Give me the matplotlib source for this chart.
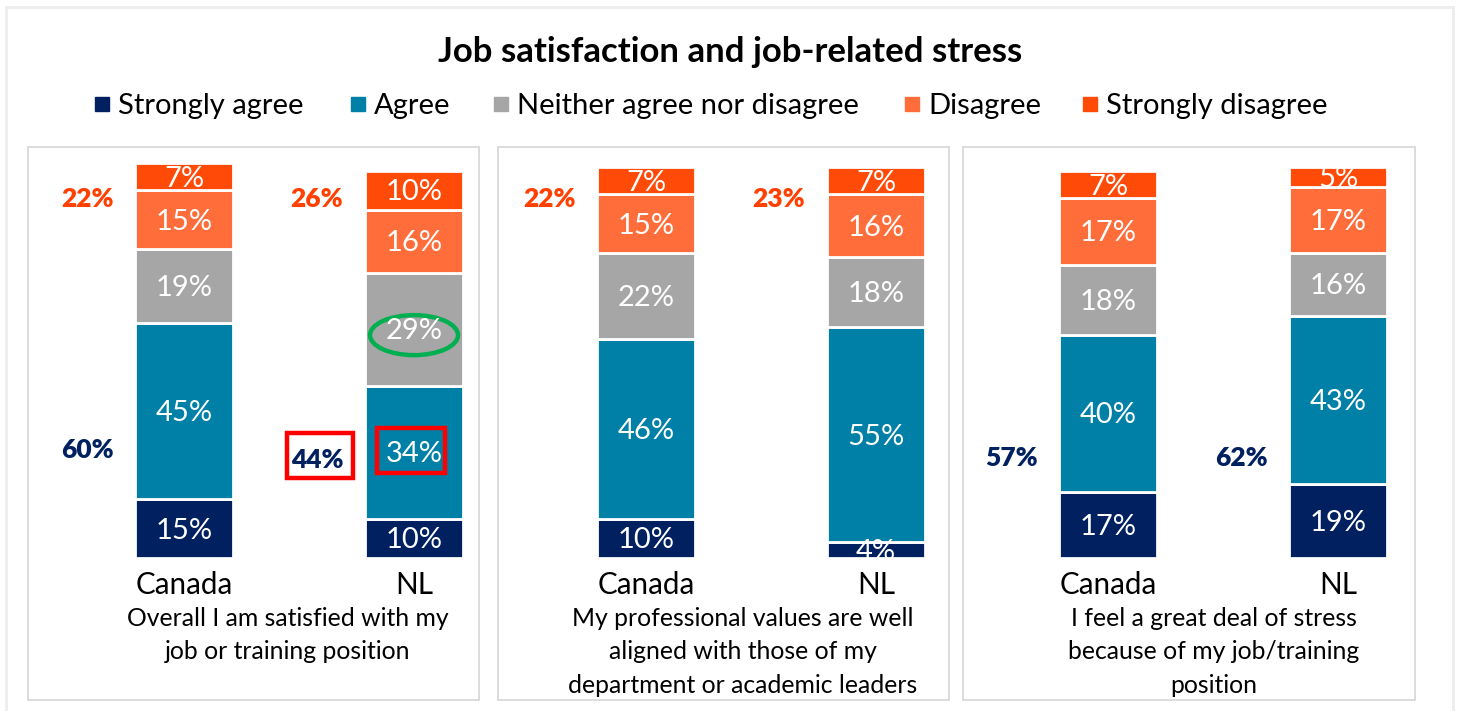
import matplotlib.pyplot as plt
from matplotlib.patches import Rectangle, Ellipse

plt.rcParams['font.family'] = ['Lato', 'DejaVu Sans']

W, H = 1460, 711

categories = ['Strongly agree', 'Agree', 'Neither agree nor disagree', 'Disagree', 'Strongly disagree']
colors = ['#002060', '#0080A6', '#A6A6A6', '#FF6D3A', '#FF4A08']
groups = ['Canada', 'NL']

questions = [
    'Overall I am satisfied with my\njob or training position',
    'My professional values are well\naligned with those of my\ndepartment or academic leaders',
    'I feel a great deal of stress\nbecause of my job/training\nposition',
]

# percent per category, [Canada, NL]
satisfied = [[15, 10], [45, 34], [19, 29], [15, 16], [7, 10]]
values_aligned = [[10, 4], [46, 55], [22, 18], [15, 16], [7, 7]]
stress = [[17, 19], [40, 43], [18, 16], [17, 17], [7, 5]]
panels = [satisfied, values_aligned, stress]

# combined agree / disagree totals shown beside the bars (None = not shown)
agree_totals = [[60, 44], [None, None], [57, 62]]
disagree_totals = [[22, 26], [22, 23], [None, None]]

# pixel layout of the three panels: (left, right, canada bar centre, nl bar centre)
panel_px = [(28, 479, 184, 414), (498, 949, 646, 876), (963, 1415, 1108, 1338)]
question_shift_px = [-11, -18, -9]
bar_w_px = 98
base_px, top_px = 558, 147
px_per_pct = 3.91
agree_y = [[27.5, 25.0], [None, None], [25.5, 25.5]]

fig = plt.figure(figsize=(W / 100, H / 100), dpi=100)


def fx(px):
    return px / W


def fy(py):
    return 1 - py / H


# outer frame
fig.patches.append(Rectangle((fx(6), fy(720)), fx(1453) - fx(6), fy(7) - fy(720),
                             transform=fig.transFigure, fill=False,
                             edgecolor='#EDEDED', linewidth=2))

fig.text(0.5, fy(52), 'Job satisfaction and job-related stress', ha='center', va='center',
         fontsize=25, fontweight='bold', color='black')

# legend
leg_sq = [95, 351, 494, 905, 1083]
for x0, lab, col in zip(leg_sq, categories, colors):
    fig.patches.append(Rectangle((fx(x0), fy(111)), 14 / W, 14 / H,
                                 transform=fig.transFigure, color=col))
    fig.text(fx(x0 + 23), fy(106), lab, ha='left', va='center', fontsize=21)

for i, data in enumerate(panels):
    left, right, c, n = panel_px[i]
    fig.patches.append(Rectangle((fx(left), fy(700)), fx(right) - fx(left), fy(147) - fy(700),
                                 transform=fig.transFigure, fill=False,
                                 edgecolor='#D9D9D9', linewidth=1.3))
    ax = fig.add_axes([fx(left), fy(base_px), fx(right) - fx(left), fy(top_px) - fy(base_px)])
    unit = n - c
    ax.set_xlim((left - c) / unit, (right - c) / unit)
    ax.set_ylim(0, (base_px - top_px) / px_per_pct)
    ax.axis('off')

    bottoms = [0, 0]
    for k, row in enumerate(data):
        ax.bar([0, 1], row, bottom=bottoms, width=bar_w_px / unit, color=colors[k],
               edgecolor='white', linewidth=2)
        for j, v in enumerate(row):
            ax.text(j, bottoms[j] + v / 2 - 0.5, f'{v}%', ha='center', va='center',
                    color='white', fontsize=21)
        bottoms = [b + v for b, v in zip(bottoms, row)]

    off = -97 / unit
    for j in range(2):
        ax.text(j, (base_px - 585) / px_per_pct, groups[j], ha='center', va='center',
                fontsize=21.3)
        if disagree_totals[i][j] is not None:
            ax.text(j + off, 91.8, f'{disagree_totals[i][j]}%', ha='center', va='center',
                    fontsize=19, fontweight='heavy', color='#FF4000')
        if agree_totals[i][j] is not None:
            ax.text(j + off, agree_y[i][j], f'{agree_totals[i][j]}%', ha='center', va='center',
                    fontsize=19, fontweight='heavy', color='#002060')

    ax.text(0.5 + question_shift_px[i] / unit, (base_px - 607) / px_per_pct, questions[i],
            ha='center', va='top', fontsize=17.8, linespacing=1.55)

    if i == 0:
        # highlight marks on the NL bar
        top_nl = 10 + 34
        ax.add_patch(Ellipse((1, top_nl + 29 / 2 - 1.5), 88 / unit, 40 / px_per_pct, fill=False,
                             edgecolor='#00B050', linewidth=3.2, clip_on=False))
        ax.add_patch(Rectangle((1 - 37 / unit, (base_px - 473) / px_per_pct), 68 / unit,
                               45 / px_per_pct, fill=False, edgecolor='#FF0000',
                               linewidth=3.2, clip_on=False))
        ax.add_patch(Rectangle((1 - 127 / unit, (base_px - 478) / px_per_pct), 66 / unit,
                               45 / px_per_pct, fill=False, edgecolor='#FF0000',
                               linewidth=3.2, clip_on=False))

fig.savefig('out.png', dpi=100, facecolor='white')
